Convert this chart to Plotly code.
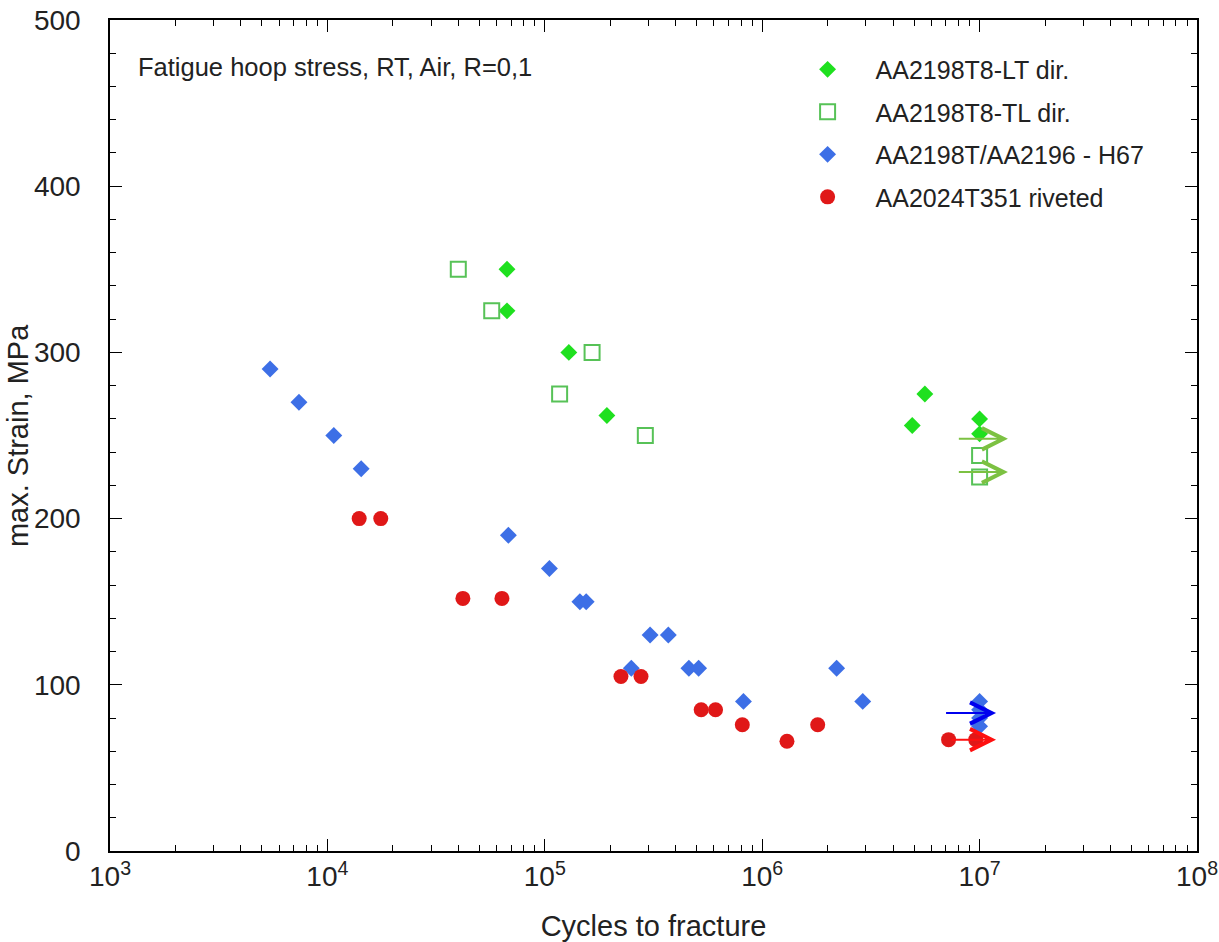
import math
import plotly.graph_objects as go

# ---- data ----
lt_cycles = [6.7e4, 6.7e4, 1.29e5, 1.93e5, 4.9e6, 5.6e6, 1e7, 1e7]
lt_stress = [350, 325, 300, 262, 256, 275, 260, 251]

tl_cycles = [4.0e4, 5.7e4, 1.17e5, 1.65e5, 2.9e5, 1e7, 1e7]
tl_stress = [350, 325, 275, 300, 250, 238, 225]

h67_cycles = [5.45e3, 7.4e3, 1.07e4, 1.43e4, 6.8e4, 1.05e5, 1.45e5, 1.55e5,
              3.05e5, 3.7e5, 2.5e5, 4.6e5, 5.1e5, 8.2e5, 2.2e6, 2.9e6,
              1e7, 1e7, 1e7, 1e7]
h67_stress = [290, 270, 250, 230, 190, 170, 150, 150,
              130, 130, 110, 110, 110, 90, 110, 90,
              90, 85, 80, 75]

riv_cycles = [1.4e4, 1.76e4, 4.2e4, 6.35e4, 2.24e5, 2.77e5, 5.24e5, 6.1e5,
              8.1e5, 1.3e6, 1.8e6, 7.2e6, 9.6e6]
riv_stress = [200, 200, 152, 152, 105, 105, 85, 85, 76, 66, 76, 67, 67]

# run-out arrows
runout_start = [7.9e6, 7.9e6, 6.9e6, 7.3e6]
runout_end = [1.35e7, 1.35e7, 1.19e7, 1.19e7]
runout_stress = [248, 228, 83, 67]
runout_colors = ["#7cc142", "#7cc142", "#0000ee", "#ff1010"]

x_tick_vals = [1e3, 1e4, 1e5, 1e6, 1e7, 1e8]
x_tick_text = ["10<sup>3</sup>", "10<sup>4</sup>", "10<sup>5</sup>",
               "10<sup>6</sup>", "10<sup>7</sup>", "10<sup>8</sup>"]
x_minor_vals = [m * 10 ** k for k in range(3, 8) for m in range(2, 10)]
y_tick_vals = [0, 100, 200, 300, 400, 500]

FONT = "Liberation Sans, Arial, Helvetica, sans-serif"
TXT = "#222222"

fig = go.Figure()
fig.add_trace(go.Scatter(
    x=lt_cycles, y=lt_stress, mode="markers", name="AA2198T8-LT dir.",
    legendgroup="a",
    marker=dict(symbol="diamond", size=13, color="#1fe01f", line=dict(width=0))))
fig.add_trace(go.Scatter(
    x=tl_cycles, y=tl_stress, mode="markers", name="AA2198T8-TL dir.",
    legendgroup="b",
    marker=dict(symbol="square-open", size=15, color="#57c257", line=dict(width=2))))
fig.add_trace(go.Scatter(
    x=h67_cycles, y=h67_stress, mode="markers", name="AA2198T/AA2196 - H67",
    legendgroup="c",
    marker=dict(symbol="diamond", size=13, color="#3d6fe6", line=dict(width=0))))
fig.add_trace(go.Scatter(
    x=riv_cycles, y=riv_stress, mode="markers", name="AA2024T351 riveted",
    legendgroup="d",
    marker=dict(symbol="circle", size=15, color="#e01818", line=dict(width=0))))

for xs, xe, yv, c in zip(runout_start, runout_end, runout_stress, runout_colors):
    fig.add_annotation(
        x=math.log10(xe), y=yv, ax=math.log10(xs), ay=yv,
        xref="x", yref="y", axref="x", ayref="y",
        showarrow=True, arrowhead=5, arrowsize=2.1, arrowwidth=2,
        arrowcolor=c, text="")

fig.add_annotation(
    x=0.024, y=0.943, xref="paper", yref="paper", xanchor="left", yanchor="middle",
    text="Fatigue hoop stress, RT, Air, R=0,1", showarrow=False,
    font=dict(family=FONT, size=25.5, color=TXT))

# y-axis title (placed as rotated text to sit as far left as in the reference)
fig.add_annotation(
    x=-0.085, y=0.5, xref="paper", yref="paper", xanchor="center", yanchor="middle",
    text="max. Strain, MPa", textangle=-90, showarrow=False,
    font=dict(family=FONT, size=29, color=TXT))

fig.update_layout(
    width=1219, height=942,
    margin=dict(l=110, r=22, t=20, b=91),
    paper_bgcolor="white", plot_bgcolor="white",
    font=dict(family=FONT, color=TXT),
    showlegend=True,
    legend=dict(x=0.616, y=0.968, xanchor="left", yanchor="top",
                font=dict(family=FONT, size=25, color=TXT),
                bgcolor="rgba(0,0,0,0)", tracegroupgap=7,
                traceorder="grouped", itemwidth=86),
)

fig.update_xaxes(
    type="log", range=[3, 8], automargin=False,
    tickmode="array", tickvals=x_tick_vals, ticktext=x_tick_text,
    ticks="inside", ticklen=12, tickwidth=1.2, tickcolor="black",
    showline=True, linecolor="black", linewidth=1.5, mirror="allticks",
    showgrid=False, zeroline=False,
    tickfont=dict(family=FONT, size=28, color=TXT),
    minor=dict(tickmode="array", tickvals=x_minor_vals, ticks="inside",
               ticklen=6, tickwidth=1, tickcolor="black", showgrid=False),
    title=dict(text="Cycles to fracture", font=dict(family=FONT, size=29, color=TXT),
               standoff=24),
)
fig.update_yaxes(
    range=[0, 500], automargin=False,
    tickmode="array", tickvals=y_tick_vals,
    ticks="inside", ticklen=12, tickwidth=1.2, tickcolor="black",
    showline=True, linecolor="black", linewidth=1.5, mirror="allticks",
    showgrid=False, zeroline=False, ticklabelstandoff=22,
    tickfont=dict(family=FONT, size=28, color=TXT),
    minor=dict(dtick=20, ticks="inside", ticklen=6, tickwidth=1,
               tickcolor="black", showgrid=False),
)

# remove the page's default 8 px body margin so the figure fills the window
fig.write_html("out.html",
               config={"displayModeBar": False},
               post_script="document.body.style.margin='0';document.body.style.overflow='hidden';")
